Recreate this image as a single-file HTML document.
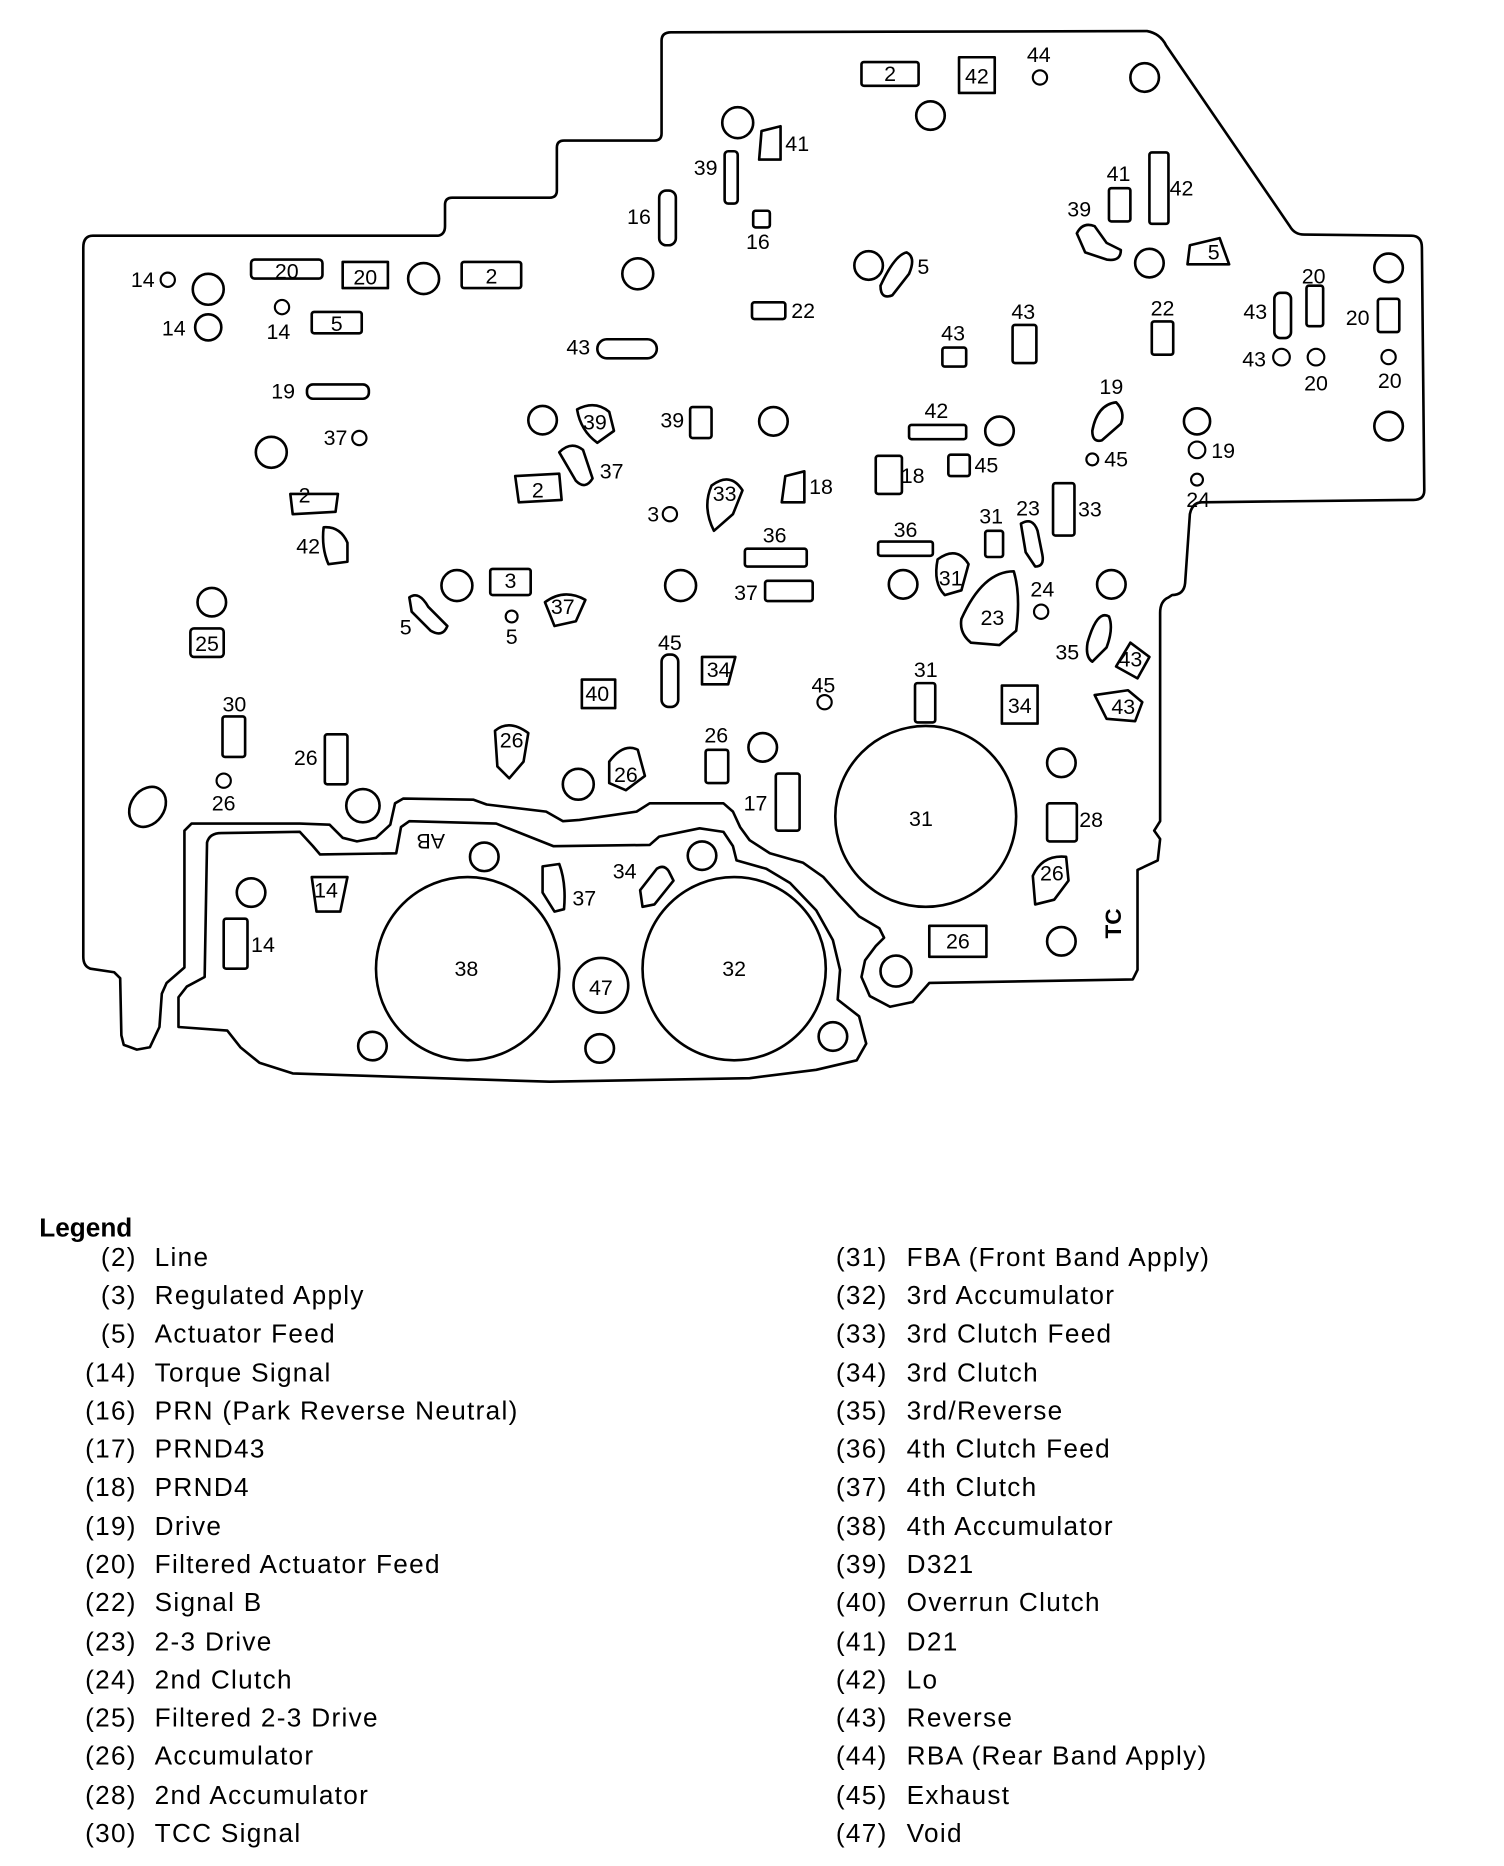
<!DOCTYPE html>
<html><head><meta charset="utf-8"><style>
html,body{margin:0;padding:0;background:#fff}
svg{display:block}
text{font-family:"Liberation Sans",sans-serif;fill:#000}
.l{font-size:18px}
.g{font-size:22px;letter-spacing:1.1px}
</style></head><body>
<svg width="1504" height="1866" viewBox="0 0 1264 1568" xmlns="http://www.w3.org/2000/svg">
<g fill="none" stroke="#000" stroke-width="2.2" stroke-linejoin="round">
<path d="M78,198 L368,198 Q374,197 374,190 L374,172 Q374,166 380,166 L462,166 Q468,166 468,160 L468,124 Q468,118 474,118 L550,118 Q556,118 556,112 L556,34 Q556,27 564,27 L964,26 Q975,28 980,38 L1084,190 Q1088,197 1096,197 L1186,198 Q1195,198 1195,208 L1197,412 Q1197,420 1188,420 L1010,422 Q1002,422 1000,432 L996,490 Q995,500 985,500 L982,502 Q975,505 975,515 L975,690 L970,698 L975,705 L973,723 L956,731 L956,815 L952,823 L781,826 L767,842 L748,846 L731,837 L724,821 L727,807 L736,795 L743,788 L739,780 L722,770 L706,753 L692,737 L675,725 L647,717 L630,706 L622,695 L616,682 L608,675 L546,675 L535,682 L487,689 L473,690 L459,682 L409,676 L398,672 L339,671 L332,675 L328,693 L316,704 L300,707 L288,704 L277,693 L252,692 L161,692 L155,698 L155,813 L140,826 L136,835 L134,863 L126,880 L115,882 L104,878 L102,870 L101,822 L96,817 L76,814 Q70,812 70,804 L70,208 Q70,198 78,198 Z"/>
<path d="M174,708 Q176,700 186,700 L252,699 L263,711 L269,718 L333,717 L337,695 L344,690 L417,692 L465,711 L546,710 L554,703 L588,696 L608,699 L616,711 L619,723 L644,730 L664,742 L686,765 L700,790 L706,815 L704,840 L722,854 L728,877 L720,891 L686,899 L630,906 L462,909 L246,902 L218,893 L202,880 L191,866 L150,863 L150,838 L157,829 L172,821 Z"/>
<circle cx="393" cy="814" r="77"/><circle cx="617" cy="814" r="77"/><circle cx="778" cy="686" r="76"/><circle cx="505" cy="828" r="23"/>
<g>
<circle cx="620" cy="103" r="13"/><circle cx="782" cy="97" r="12"/><circle cx="962" cy="65" r="12"/><circle cx="175" cy="243" r="13"/><circle cx="175" cy="275" r="11"/><circle cx="356" cy="234" r="13"/><circle cx="536" cy="230" r="13"/><circle cx="730" cy="223" r="12"/><circle cx="966" cy="221" r="12"/><circle cx="1167" cy="225" r="12"/><circle cx="1167" cy="358" r="12"/><circle cx="228" cy="380" r="13"/><circle cx="456" cy="353" r="12"/><circle cx="650" cy="354" r="12"/><circle cx="840" cy="362" r="12"/><circle cx="1006" cy="354" r="11"/><circle cx="384" cy="492" r="13"/><circle cx="572" cy="492" r="13"/><circle cx="759" cy="491" r="12"/><circle cx="934" cy="491" r="12"/><circle cx="178" cy="506" r="12"/><circle cx="641" cy="628" r="12"/><circle cx="486" cy="659" r="13"/><circle cx="892" cy="641" r="12"/><circle cx="305" cy="677" r="14"/><circle cx="407" cy="720" r="12"/><circle cx="590" cy="719" r="12"/><circle cx="211" cy="750" r="12"/><circle cx="892" cy="791" r="12"/><circle cx="753" cy="816" r="13"/><circle cx="313" cy="879" r="12"/><circle cx="504" cy="881" r="12"/><circle cx="700" cy="871" r="12"/>
<ellipse cx="124" cy="678" rx="14" ry="18" transform="rotate(35 124 678)"/>
</g>
<g stroke-width="1.8">
<circle cx="141" cy="235" r="6"/><circle cx="874" cy="65" r="6"/><circle cx="1077" cy="300" r="7"/><circle cx="1106" cy="300" r="7"/><circle cx="1167" cy="300" r="6"/><circle cx="302" cy="368" r="6"/><circle cx="563" cy="432" r="6"/><circle cx="918" cy="386" r="5"/><circle cx="1006" cy="378" r="7"/><circle cx="1006" cy="403" r="5"/><circle cx="875" cy="514" r="6"/><circle cx="430" cy="518" r="5"/><circle cx="693" cy="590" r="6"/><circle cx="188" cy="656" r="6"/><circle cx="237" cy="258" r="6"/>
</g>
<g>
<rect x="724" y="52" width="48" height="20" rx="2"/><rect x="806" y="48" width="30" height="30"/>
<rect x="609" y="127" width="11" height="44" rx="3"/>
<rect x="554" y="160" width="14" height="46" rx="6"/><rect x="633" y="177" width="14" height="14" rx="2"/>
<rect x="932" y="158" width="18" height="28" rx="2"/><rect x="966" y="128" width="16" height="60" rx="2"/>
<rect x="211" y="218" width="60" height="16" rx="3"/><rect x="288" y="220" width="38" height="22"/><rect x="388" y="220" width="50" height="22" rx="2"/>
<rect x="262" y="262" width="42" height="18" rx="2"/><rect x="632" y="254" width="28" height="14" rx="2"/>
<rect x="502" y="285" width="50" height="16" rx="8"/><rect x="258" y="323" width="52" height="12" rx="5"/>
<rect x="792" y="292" width="20" height="16" rx="2"/><rect x="851" y="273" width="20" height="32" rx="2"/><rect x="968" y="270" width="18" height="28" rx="2"/>
<rect x="1071" y="246" width="14" height="38" rx="5"/><rect x="1098" y="240" width="14" height="34" rx="2"/><rect x="1158" y="251" width="18" height="28" rx="2"/>
<rect x="580" y="342" width="18" height="26" rx="2"/><rect x="764" y="357" width="48" height="12" rx="2"/><rect x="797" y="382" width="18" height="18" rx="2"/>
<rect x="736" y="383" width="22" height="32" rx="2"/><rect x="885" y="406" width="18" height="44" rx="2"/><rect x="828" y="446" width="15" height="22" rx="2"/>
<rect x="626" y="461" width="52" height="15" rx="2"/><rect x="738" y="455" width="46" height="12" rx="2"/><rect x="643" y="488" width="40" height="17" rx="2"/>
<rect x="412" y="478" width="34" height="22" rx="2"/><rect x="160" y="528" width="28" height="24" rx="3"/><rect x="489" y="571" width="28" height="24"/>
<rect x="556" y="550" width="14" height="44" rx="6"/><rect x="769" y="574" width="17" height="33" rx="2"/><rect x="842" y="576" width="30" height="32"/>
<rect x="187" y="602" width="19" height="34" rx="2"/><rect x="273" y="617" width="19" height="42" rx="2"/><rect x="593" y="630" width="19" height="28" rx="2"/>
<rect x="652" y="650" width="20" height="48" rx="2"/><rect x="880" y="675" width="25" height="32" rx="2"/><rect x="781" y="778" width="48" height="26"/>
<rect x="188" y="772" width="20" height="42" rx="2"/>
<path d="M433,400 L470,398 L472,420 L436,422 Z"/><path d="M590,552 L618,552 L612,575 L590,575 Z"/>
<path d="M262,737 L292,737 L286,766 L266,766 Z"/><path d="M244,415 L284,415 L282,430 L246,432 Z"/>
<path d="M660,400 L676,396 L676,422 L657,422 Z"/><path d="M640,110 L656,106 L656,134 L638,134 Z"/>
<path d="M1000,206 L1025,200 L1033,222 L998,222 Z"/><path d="M950,540 L966,552 L956,570 L938,560 Z"/>
<path d="M272,443 Q286,442 292,456 L292,472 L276,474 Q270,460 272,443 Z"/><path d="M456,728 L470,726 Q476,742 474,764 L466,766 L456,750 Z"/>
</g>
<g>
<path d="M485,344 Q500,336 512,346 L516,362 L502,372 Q488,362 485,344 Z"/>
<path d="M470,380 Q480,370 490,378 L498,402 Q492,412 484,404 Z"/>
<path d="M598,408 Q614,396 624,412 L616,432 L600,446 Q590,426 598,408 Z"/>
<path d="M458,506 Q474,494 492,504 L484,522 L466,526 Z"/>
<path d="M344,502 Q352,496 360,510 L376,526 Q372,536 362,530 L346,514 Z"/>
<path d="M788,470 Q804,458 814,474 L808,496 L794,500 Q784,490 788,470 Z"/>
<path d="M808,520 Q826,480 852,480 Q858,500 854,530 L840,542 L816,540 Q806,532 808,520 Z"/>
<path d="M858,440 Q868,434 872,446 L876,466 Q878,476 870,476 L862,464 Z"/>
<path d="M918,362 Q922,340 938,338 Q946,346 942,356 L926,370 Q918,372 918,362 Z"/>
<path d="M905,196 Q910,186 920,190 L930,204 L942,210 Q942,220 930,218 L912,212 Z"/>
<path d="M740,240 Q752,214 762,212 Q770,216 764,230 L750,248 Q740,252 740,240 Z"/>
<path d="M416,614 Q428,604 444,616 L440,640 L428,654 L418,644 Z"/>
<path d="M512,640 Q524,624 536,630 L542,652 L526,664 L512,658 Z"/>
<path d="M914,540 Q922,512 932,518 Q936,528 930,544 L918,556 Q912,552 914,540 Z"/>
<path d="M920,584 L948,580 L960,590 L954,606 L930,604 Z"/>
<path d="M868,736 Q876,718 896,720 L898,740 L886,756 L870,760 Z"/>
<path d="M538,748 L552,730 Q558,726 562,732 L566,740 L550,760 L540,762 Z"/>
</g>
</g>
<g class="l" text-anchor="middle">
<text x="748" y="68">2</text><text x="821" y="70">42</text><text x="873" y="52">44</text>
<text x="670" y="127">41</text><text x="593" y="147">39</text><text x="537" y="188">16</text><text x="637" y="209">16</text>
<text x="940" y="152">41</text><text x="993" y="164">42</text><text x="907" y="182">39</text><text x="1020" y="218">5</text><text x="776" y="230">5</text>
<text x="120" y="241">14</text><text x="241" y="234">20</text><text x="307" y="239">20</text><text x="413" y="238">2</text>
<text x="146" y="282">14</text><text x="234" y="285">14</text><text x="283" y="278">5</text><text x="675" y="267">22</text>
<text x="486" y="298">43</text><text x="801" y="286">43</text><text x="860" y="268">43</text><text x="977" y="265">22</text>
<text x="1104" y="238">20</text><text x="1055" y="268">43</text><text x="1141" y="273">20</text><text x="1054" y="308">43</text><text x="1106" y="328">20</text><text x="1168" y="326">20</text>
<text x="238" y="335">19</text><text x="282" y="374">37</text><text x="500" y="361">39</text><text x="565" y="359">39</text>
<text x="787" y="351">42</text><text x="934" y="331">19</text><text x="829" y="397">45</text><text x="938" y="392">45</text><text x="1028" y="385">19</text><text x="1007" y="426">24</text>
<text x="514" y="402">37</text><text x="452" y="418">2</text><text x="549" y="438">3</text><text x="609" y="421">33</text><text x="690" y="415">18</text><text x="767" y="406">18</text>
<text x="916" y="434">33</text><text x="864" y="433">23</text><text x="833" y="440">31</text><text x="651" y="456">36</text><text x="761" y="451">36</text>
<text x="256" y="422">2</text><text x="259" y="465">42</text><text x="429" y="494">3</text><text x="473" y="516">37</text><text x="627" y="504">37</text>
<text x="799" y="492">31</text><text x="876" y="501">24</text><text x="834" y="525">23</text><text x="341" y="533">5</text><text x="430" y="541">5</text>
<text x="174" y="547">25</text><text x="563" y="546">45</text><text x="604" y="569">34</text><text x="897" y="554">35</text><text x="950" y="560">43</text>
<text x="502" y="589">40</text><text x="692" y="582">45</text><text x="778" y="569">31</text><text x="857" y="599">34</text><text x="944" y="600">43</text>
<text x="197" y="598">30</text><text x="257" y="643">26</text><text x="430" y="628">26</text><text x="602" y="624">26</text><text x="526" y="657">26</text>
<text x="188" y="681">26</text><text x="635" y="681">17</text><text x="774" y="694">31</text><text x="917" y="695">28</text><text x="884" y="740">26</text>
<text x="362" y="713" font-size="18" transform="rotate(180 362 707)">AB</text><text x="274" y="754">14</text><text x="491" y="761">37</text><text x="525" y="738">34</text>
<text x="221" y="800">14</text><text x="805" y="797">26</text><text x="392" y="820">38</text><text x="617" y="820">32</text><text x="505" y="836">47</text>
<text x="949" y="783" font-weight="bold" font-size="19" transform="rotate(-90 942 783)">TC</text>
</g>
<text x="33" y="1039" class="g" font-weight="bold" style="letter-spacing:0">Legend</text>
<g class="g">
<g text-anchor="end">
<text x="115" y="1064">(2)</text><text x="115" y="1096">(3)</text><text x="115" y="1128">(5)</text><text x="115" y="1161">(14)</text><text x="115" y="1193">(16)</text><text x="115" y="1225">(17)</text><text x="115" y="1257">(18)</text><text x="115" y="1290">(19)</text><text x="115" y="1322">(20)</text><text x="115" y="1354">(22)</text><text x="115" y="1387">(23)</text><text x="115" y="1419">(24)</text><text x="115" y="1451">(25)</text><text x="115" y="1483">(26)</text><text x="115" y="1516">(28)</text><text x="115" y="1548">(30)</text>
<text x="746" y="1064">(31)</text><text x="746" y="1096">(32)</text><text x="746" y="1128">(33)</text><text x="746" y="1161">(34)</text><text x="746" y="1193">(35)</text><text x="746" y="1225">(36)</text><text x="746" y="1257">(37)</text><text x="746" y="1290">(38)</text><text x="746" y="1322">(39)</text><text x="746" y="1354">(40)</text><text x="746" y="1387">(41)</text><text x="746" y="1419">(42)</text><text x="746" y="1451">(43)</text><text x="746" y="1483">(44)</text><text x="746" y="1516">(45)</text><text x="746" y="1548">(47)</text>
</g>
<text x="130" y="1064">Line</text><text x="130" y="1096">Regulated Apply</text><text x="130" y="1128">Actuator Feed</text><text x="130" y="1161">Torque Signal</text><text x="130" y="1193">PRN (Park Reverse Neutral)</text><text x="130" y="1225">PRND43</text><text x="130" y="1257">PRND4</text><text x="130" y="1290">Drive</text><text x="130" y="1322">Filtered Actuator Feed</text><text x="130" y="1354">Signal B</text><text x="130" y="1387">2-3 Drive</text><text x="130" y="1419">2nd Clutch</text><text x="130" y="1451">Filtered 2-3 Drive</text><text x="130" y="1483">Accumulator</text><text x="130" y="1516">2nd Accumulator</text><text x="130" y="1548">TCC Signal</text>
<text x="762" y="1064">FBA (Front Band Apply)</text><text x="762" y="1096">3rd Accumulator</text><text x="762" y="1128">3rd Clutch Feed</text><text x="762" y="1161">3rd Clutch</text><text x="762" y="1193">3rd/Reverse</text><text x="762" y="1225">4th Clutch Feed</text><text x="762" y="1257">4th Clutch</text><text x="762" y="1290">4th Accumulator</text><text x="762" y="1322">D321</text><text x="762" y="1354">Overrun Clutch</text><text x="762" y="1387">D21</text><text x="762" y="1419">Lo</text><text x="762" y="1451">Reverse</text><text x="762" y="1483">RBA (Rear Band Apply)</text><text x="762" y="1516">Exhaust</text><text x="762" y="1548">Void</text>
</g>
</svg>
</body></html>
